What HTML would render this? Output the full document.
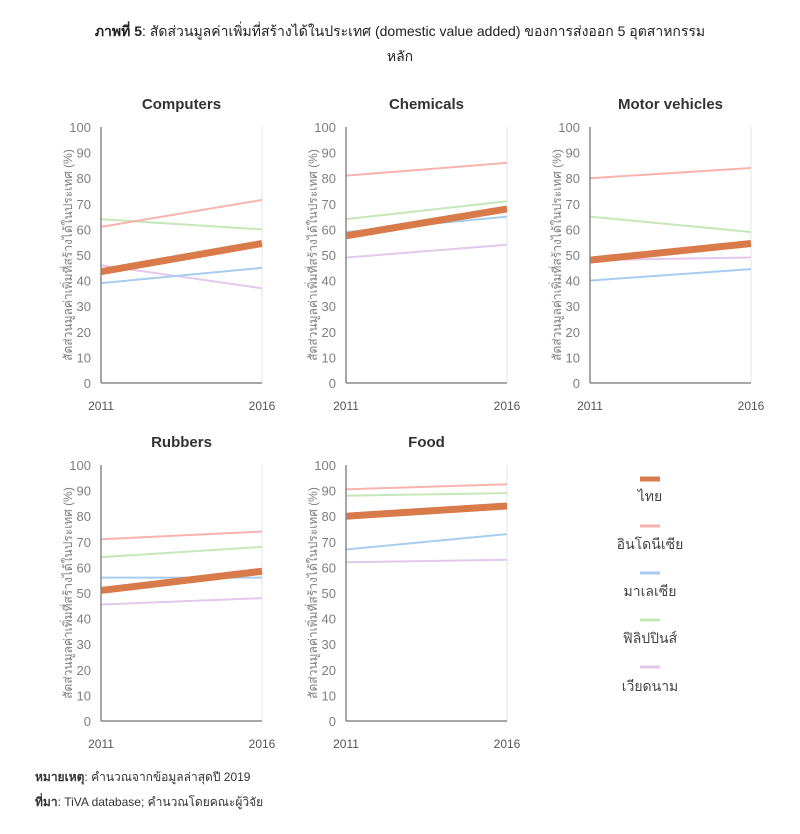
<!DOCTYPE html>
<html><head><meta charset="utf-8"><style>
body{margin:0;background:#fff;width:800px;height:834px;overflow:hidden}
svg{display:block}
text{font-family:"Liberation Sans","DejaVu Sans",sans-serif}
</style></head><body>
<svg width="800" height="834" viewBox="0 0 800 834">
<text x="400" y="36" text-anchor="middle" font-size="14" fill="#222"><tspan font-weight="bold">ภาพที่ 5</tspan>: สัดส่วนมูลค่าเพิ่มที่สร้างได้ในประเทศ (domestic value added) ของการส่งออก 5 อุตสาหกรรม</text>
<text x="400" y="61" text-anchor="middle" font-size="14" fill="#222">หลัก</text>
<g id="panels"></g>
<g font-size="14" fill="#444" text-anchor="middle">
<line x1="640" y1="479" x2="660" y2="479" stroke="#d97a4a" stroke-width="5"/><text x="650" y="501">ไทย</text>
<line x1="640" y1="526" x2="660" y2="526" stroke="#f8b3ae" stroke-width="3"/><text x="650" y="549">อินโดนีเซีย</text>
<line x1="640" y1="573" x2="660" y2="573" stroke="#a7cdee" stroke-width="3"/><text x="650" y="596">มาเลเซีย</text>
<line x1="640" y1="620" x2="660" y2="620" stroke="#c6e8b8" stroke-width="3"/><text x="650" y="643">ฟิลิปปินส์</text>
<line x1="640" y1="667" x2="660" y2="667" stroke="#e3c7ec" stroke-width="3"/><text x="650" y="691">เวียดนาม</text>
</g>
<text x="35" y="781" font-size="12" fill="#333"><tspan font-weight="bold">หมายเหตุ</tspan>: คำนวณจากข้อมูลล่าสุดปี 2019</text>
<text x="35" y="806" font-size="12" fill="#333"><tspan font-weight="bold">ที่มา</tspan>: TiVA database; คำนวณโดยคณะผู้วิจัย</text>
</svg>
<script>
const P=[
["Computers",101,383,[[43.5,54.5],[61,71.5],[39,45],[64,60],[46,37]]],
["Chemicals",346,383,[[57.5,68],[81,86],[59,65],[64,71],[49,54]]],
["Motor vehicles",590,383,[[48,54.5],[80,84],[40,44.5],[65,59],[48,49]]],
["Rubbers",101,721,[[51,58.5],[71,74],[56,56],[64,68],[45.5,48]]],
["Food",346,721,[[80,84],[90.5,92.5],[67,73],[88,89],[62,63]]]];
const C=["#d97a4a","#f8b3ae","#a7cdee","#c6e8b8","#e3c7ec"],W=[7,2,2,2,2];
let s="";
for(const [t,x0,y0,d] of P){
 const x1=x0+161,Y=v=>y0-v*2.56;
 s+=`<text x="${(x0+x1)/2}" y="${y0-274}" text-anchor="middle" font-size="15" font-weight="bold" fill="#333">${t}</text>`;
 for(let v=0;v<=100;v+=10)s+=`<text x="${x0-10}" y="${Y(v)+5}" text-anchor="end" font-size="13" fill="#7f7f7f">${v}</text>`;
 s+=`<text transform="translate(${x0-29},${y0-128}) rotate(-90)" text-anchor="middle" font-size="12" fill="#7f7f7f">สัดส่วนมูลค่าเพิ่มที่สร้างได้ในประเทศ (%)</text>`;
 s+=`<line x1="${x1}" y1="${Y(100)}" x2="${x1}" y2="${y0}" stroke="#e6e6e6"/>`;
 for(let i=4;i>=0;i--){const k=i==0?0:i;}
 for(const i of [4,2,3,1,0])s+=`<line x1="${x0}" y1="${Y(d[i][0])}" x2="${x1}" y2="${Y(d[i][1])}" stroke="${C[i]}" stroke-width="${W[i]}"/>`;
 s+=`<line x1="${x0}" y1="${Y(100)}" x2="${x0}" y2="${y0}" stroke="#888" stroke-width="1.5"/><line x1="${x0}" y1="${y0}" x2="${x1}" y2="${y0}" stroke="#888" stroke-width="1.5"/>`;
 s+=`<text x="${x0}" y="${y0+27}" text-anchor="middle" font-size="12" fill="#555">2011</text><text x="${x1}" y="${y0+27}" text-anchor="middle" font-size="12" fill="#555">2016</text>`;
}
document.getElementById("panels").innerHTML=s;
</script>
</body></html>
